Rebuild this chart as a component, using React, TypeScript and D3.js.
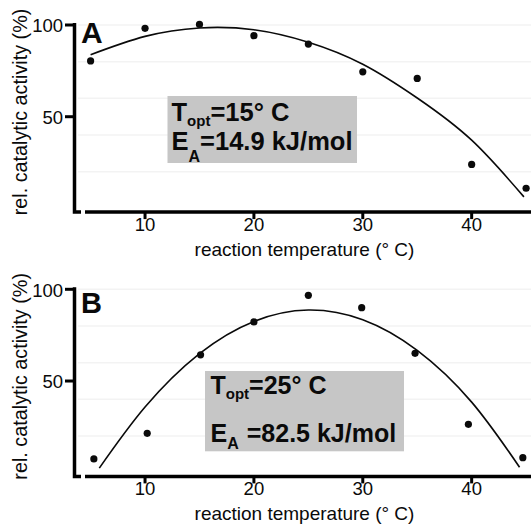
import React from "react";
import * as d3 from "d3";

// Panel A: measured relative activity at each reaction temperature
const temperaturesA = [5, 10, 15, 20, 25, 30, 35, 40, 45];
const activityA = [80.4, 98.2, 100.3, 94.2, 89.6, 74.5, 70.9, 24.0, 11.0];
// Panel A: fitted curve samples
const fitTemperaturesA = [5, 10, 15, 20, 25, 30, 35, 40, 44.8];
const fitActivityA = [83.8, 93.8, 98.4, 97.4, 90.6, 78.6, 60.2, 37.2, 6.3];

// Panel B: measured relative activity at each reaction temperature
const temperaturesB = [5.3, 10.2, 15.1, 20, 25, 29.9, 34.8, 39.7, 44.7];
const activityB = [7.5, 21.5, 64.3, 82.2, 96.7, 90.0, 65.1, 26.4, 8.2];
// Panel B: fitted curve samples
const fitTemperaturesB = [5.8, 10, 15, 20, 25, 30, 35, 40, 44.4];
const fitActivityB = [2.5, 35.8, 64.9, 82.5, 88.7, 83.4, 66.7, 38.5, 3.0];

const xTicks = [10, 20, 30, 40];
const yTicks = [100, 50];
const gridValues = [20, 40, 60, 80, 100];

const xTitle = "reaction temperature (° C)";
const yTitle = "rel. catalytic activity (%)";

const FONT = "'Liberation Sans', Arial, Helvetica, sans-serif";
const INK = "#0a0a0a";
const W = 531;
const H = 527;
const PANEL_SHIFT = 264.3;

// shared scales for both panels (panel-local coordinates)
const x = d3.scaleLinear().domain([5, 45]).range([90.6, 526.1]);
const y = d3.scaleLinear().domain([-2, 100]).range([212.1, 25]);

type BoxText = {
  x: number;
  y: number;
  w: number;
  h: number;
  textX: number;
  line1Y: number;
  line2Y: number;
  optShift: number;
  subAShift: number;
  eqGap: number;
  mainSize: number;
  tLabel: string;
  eLabel: string;
};

type PanelProps = {
  top: number;
  letter: string;
  letterY: number;
  letterSize: number;
  px: number[];
  py: number[];
  fx: number[];
  fy: number[];
  box: BoxText;
};

function Panel({ top, letter, letterY, letterSize, px, py, fx, fy, box }: PanelProps) {
  const line = d3
    .line<number>()
    .x((_, i) => x(fx[i]))
    .y((d) => y(d))
    .curve(d3.curveNatural);
  const axisY = y(-2);
  return (
    <g transform={`translate(0,${top})`}>
      {gridValues.map((g) => (
        <line key={g} x1={78} x2={W} y1={y(g)} y2={y(g)} stroke="#f3f3f3" strokeWidth={1.5} />
      ))}
      {/* y axis with foot */}
      <path
        d={`M74.5,23 L74.5,${axisY} L81,${axisY}`}
        fill="none"
        stroke="#000"
        strokeWidth={3.5}
      />
      {yTicks.map((t) => (
        <g key={t}>
          <line x1={65} x2={74.5} y1={y(t)} y2={y(t)} stroke="#000" strokeWidth={3} />
          <text
            x={63}
            y={y(t) + 1}
            dy="0.35em"
            textAnchor="end"
            fontSize={18.5}
            fontFamily={FONT}
            fill={INK}
          >
            {t}
          </text>
        </g>
      ))}
      {/* x axis */}
      <line x1={85} x2={W} y1={axisY} y2={axisY} stroke="#000" strokeWidth={3.5} />
      {xTicks.map((t) => (
        <g key={t}>
          <line x1={x(t)} x2={x(t)} y1={axisY} y2={axisY + 7} stroke="#000" strokeWidth={3} />
          <text
            x={x(t)}
            y={230.5}
            textAnchor="middle"
            fontSize={18.5}
            fontFamily={FONT}
            fill={INK}
          >
            {t}
          </text>
        </g>
      ))}
      <text x={304.5} y={255.5} textAnchor="middle" fontSize={19} fontFamily={FONT} fill={INK}>
        {xTitle}
      </text>
      <text
        transform={`translate(27,112) rotate(-90)`}
        textAnchor="middle"
        fontSize={19.8}
        fontFamily={FONT}
        fill={INK}
      >
        {yTitle}
      </text>

      {/* annotation box */}
      <rect x={box.x} y={box.y} width={box.w} height={box.h} fill="#c6c6c6" />
      <text x={box.textX} y={box.line1Y} fontFamily={FONT} fontWeight="bold" fontSize={box.mainSize} fill={INK}>
        <tspan>T</tspan>
        <tspan fontSize={15} dy={box.optShift}>opt</tspan>
        <tspan dy={-box.optShift}>{box.tLabel}</tspan>
      </text>
      <text x={box.textX} y={box.line2Y} fontFamily={FONT} fontWeight="bold" fontSize={box.mainSize} fill={INK}>
        <tspan>E</tspan>
        <tspan fontSize={16} dy={box.subAShift}>A</tspan>
        <tspan dy={-box.subAShift} dx={box.eqGap}>{box.eLabel}</tspan>
      </text>

      {/* fitted curve */}
      <path d={line(fy) ?? ""} fill="none" stroke={INK} strokeWidth={1.6} />
      {/* measured points */}
      {px.map((v, i) => (
        <circle key={i} cx={x(v)} cy={y(py[i])} r={3.6} fill={INK} />
      ))}

      <text x={81} y={letterY} fontFamily={FONT} fontWeight="bold" fontSize={letterSize} fill={INK}>
        {letter}
      </text>
    </g>
  );
}

export default function App() {
  return (
    <svg
      width={W}
      height={H}
      viewBox={`0 0 ${W} ${H}`}
      style={{ position: "absolute", left: 0, top: 0, background: "#fff" }}
    >
      <rect width={W} height={H} fill="#fff" />
      <Panel
        top={0}
        letter="A"
        letterY={42.7}
        letterSize={30}
        px={temperaturesA}
        py={activityA}
        fx={fitTemperaturesA}
        fy={fitActivityA}
        box={{
          x: 167.5,
          y: 96,
          w: 189.5,
          h: 67,
          textX: 171.5,
          line1Y: 120.7,
          line2Y: 150,
          optShift: 5,
          subAShift: 12,
          eqGap: 0,
          mainSize: 25.5,
          tLabel: "=15° C",
          eLabel: "=14.9 kJ/mol",
        }}
      />
      <Panel
        top={PANEL_SHIFT}
        letter="B"
        letterY={48.7}
        letterSize={29}
        px={temperaturesB}
        py={activityB}
        fx={fitTemperaturesB}
        fy={fitActivityB}
        box={{
          x: 205,
          y: 106.7,
          w: 199,
          h: 80.3,
          textX: 210.5,
          line1Y: 130,
          line2Y: 178,
          optShift: 4.5,
          subAShift: 6.7,
          eqGap: 8,
          mainSize: 25,
          tLabel: "=25° C",
          eLabel: "=82.5 kJ/mol",
        }}
      />
    </svg>
  );
}
